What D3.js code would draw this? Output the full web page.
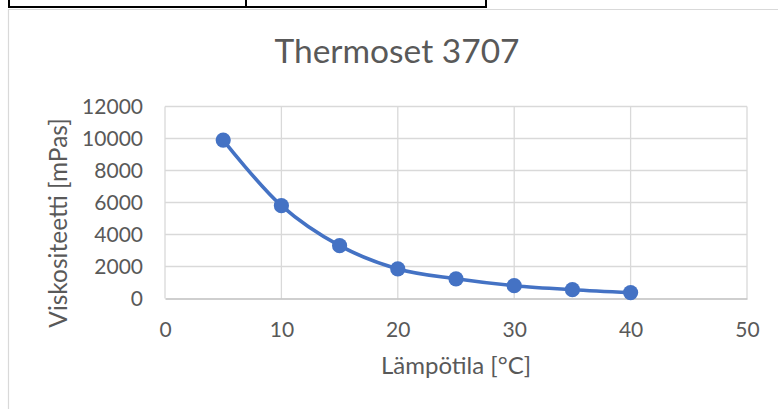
<!DOCTYPE html>
<html>
<head>
<meta charset="utf-8">
<script src="https://cdn.jsdelivr.net/npm/d3@7"></script>
<style>
  html, body { margin: 0; padding: 0; background: #fff; }
  svg { display: block; }
  text { font-family: Lato, "Open Sans", sans-serif; fill: #595959; }
</style>
</head>
<body>
<svg id="chart" width="778" height="409"></svg>
<script>
(function() {
  var temperatures = [5, 10, 15, 20, 25, 30, 35, 40];
  var viscosities = [9900, 5800, 3300, 1850, 1230, 800, 550, 370];
  var xTicks = [0, 10, 20, 30, 40, 50];
  var yTicks = [0, 2000, 4000, 6000, 8000, 10000, 12000];

  var svg = d3.select('#chart');
  var blue = '#4472c4', grid = '#d9d9d9';

  // table row above the chart
  var table = svg.append('g').attr('stroke', '#000').attr('stroke-width', 2);
  table.append('line').attr('x1', 8).attr('x2', 487).attr('y1', 7).attr('y2', 7);
  [9, 246, 486].forEach(function(x) {
    table.append('line').attr('x1', x).attr('x2', x).attr('y1', 0).attr('y2', 8);
  });

  // chart frame
  svg.append('path')
    .attr('d', 'M8.5,409V9.5H778')
    .attr('fill', 'none').attr('stroke', '#d9d9d9').attr('stroke-width', 1.2);

  var x = d3.scaleLinear().domain([0, 50]).range([165, 747]);
  var y = d3.scaleLinear().domain([0, 12000]).range([298.5, 106.5]);

  // gridlines
  svg.append('g').selectAll('line').data(yTicks.slice(1)).enter().append('line')
    .attr('x1', x(0)).attr('x2', x(50))
    .attr('y1', function(d) { return y(d); }).attr('y2', function(d) { return y(d); })
    .attr('stroke', grid).attr('stroke-width', 1.3);
  svg.append('g').selectAll('line').data(xTicks).enter().append('line')
    .attr('x1', function(d) { return x(d); }).attr('x2', function(d) { return x(d); })
    .attr('y1', y(12000)).attr('y2', y(0))
    .attr('stroke', grid).attr('stroke-width', 1.3);

  // x axis
  var xAxis = svg.append('g')
    .attr('transform', 'translate(0,' + y(0) + ')')
    .call(d3.axisBottom(x).tickValues(xTicks).tickSize(0).tickPadding(24).tickFormat(d3.format('d')));
  xAxis.select('.domain').attr('stroke', '#bfbfbf').attr('stroke-width', 1.3);
  xAxis.selectAll('text').attr('font-size', 21).style('font-family', 'Lato').attr('fill', '#595959');

  // y axis
  var yAxis = svg.append('g')
    .attr('transform', 'translate(143,0)')
    .call(d3.axisLeft(y).tickValues(yTicks).tickSize(0).tickPadding(0).tickFormat(d3.format('d')));
  yAxis.select('.domain').remove();
  yAxis.selectAll('text').attr('font-size', 21).style('font-family', 'Lato').attr('fill', '#595959');

  // series
  var line = d3.line()
    .x(function(d, i) { return x(temperatures[i]); })
    .y(function(d) { return y(d); })
    .curve(d3.curveCatmullRom.alpha(0.5));

  svg.append('path').datum(viscosities)
    .attr('d', line)
    .attr('fill', 'none').attr('stroke', blue).attr('stroke-width', 3.6);

  svg.append('g').selectAll('circle').data(viscosities).enter().append('circle')
    .attr('cx', function(d, i) { return x(temperatures[i]); })
    .attr('cy', function(d) { return y(d); })
    .attr('r', 7.6)
    .attr('fill', blue);

  // titles
  svg.append('text').attr('x', 397).attr('y', 63)
    .attr('text-anchor', 'middle').attr('font-size', 33.5)
    .text('Thermoset 3707');

  svg.append('text').attr('x', 456).attr('y', 374)
    .attr('text-anchor', 'middle').attr('font-size', 24)
    .text('Lämpötila [°C]');

  svg.append('text')
    .attr('transform', 'translate(67,223) rotate(-90)')
    .attr('text-anchor', 'middle').attr('font-size', 24.5)
    .text('Viskositeetti [mPas]');
})();
</script>
</body>
</html>
